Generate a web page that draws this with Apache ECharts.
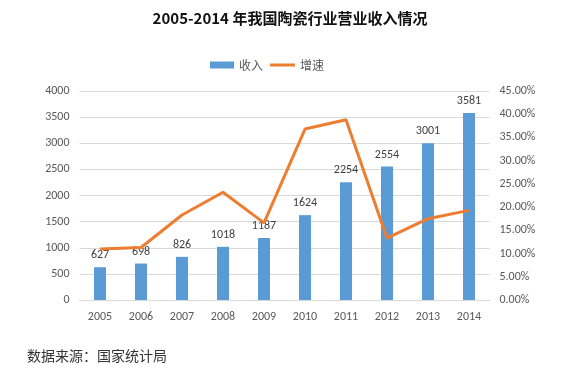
<!DOCTYPE html>
<html><head><meta charset="utf-8">
<script src="https://cdn.jsdelivr.net/npm/echarts@6/dist/echarts.min.js"></script>
<style>html,body{margin:0;padding:0;background:#fff}#c{width:580px;height:371px}</style>
</head><body><div id="c"></div>
<script>
const years = ['2005','2006','2007','2008','2009','2010','2011','2012','2013','2014'];
const revenue = [627, 698, 826, 1018, 1187, 1624, 2254, 2554, 3001, 3581];
const growth = [11.0, 11.3, 18.3, 23.2, 16.6, 36.8, 38.8, 13.3, 17.5, 19.3];
const leftTicks = {min: 0, max: 4000, interval: 500};
const rightTicks = {min: 0, max: 45, interval: 5};

const chart = echarts.init(document.getElementById('c'));
const lblFont = 'Calibri, "Liberation Sans", "Noto Sans CJK SC", sans-serif';
const legText = {fontSize: 12, color: '#595959', fontFamily: '"Noto Sans CJK SC", sans-serif'};
chart.setOption({
  animation: false,
  title: {
    text: '2005-2014 年我国陶瓷行业营业收入情况',
    left: 'center', top: 6,
    textStyle: {fontSize: 15, fontWeight: 'bold', color: '#111', fontFamily: '"Noto Sans CJK SC", sans-serif'}
  },
  legend: [{
    top: 59, left: 210, padding: 0, itemWidth: 24, itemHeight: 7, itemGap: 3,
    textStyle: legText,
    data: [{name: '收入', icon: 'rect'}]
  }, {
    top: 59, left: 270, padding: 0, itemWidth: 25, itemHeight: 3, itemGap: 3,
    textStyle: legText,
    data: [{name: '增速', icon: 'rect'}]
  }],
  grid: {left: 79.5, right: 90.5, top: 91, bottom: 71},
  xAxis: {
    type: 'category', data: years,
    axisLine: {show: true, lineStyle: {color: '#d9d9d9'}},
    axisTick: {show: false},
    axisLabel: {color: '#595959', fontSize: 12, margin: 11, fontFamily: lblFont}
  },
  yAxis: [{
    type: 'value', min: leftTicks.min, max: leftTicks.max, interval: leftTicks.interval,
    axisLine: {show: false}, axisTick: {show: false},
    splitLine: {lineStyle: {color: '#d9d9d9'}},
    axisLabel: {color: '#595959', fontSize: 12, margin: 10, fontFamily: lblFont,
      formatter: v => String(v)}
  }, {
    type: 'value', min: rightTicks.min, max: rightTicks.max, interval: rightTicks.interval,
    axisLine: {show: false}, axisTick: {show: false}, splitLine: {show: false},
    axisLabel: {color: '#595959', fontSize: 12, margin: 10, fontFamily: lblFont,
      formatter: v => v.toFixed(2) + '%'}
  }],
  series: [{
    name: '收入', type: 'bar', data: revenue, barWidth: 12,
    itemStyle: {color: '#5B9BD5'},
    label: {show: true, position: 'top', distance: 6, color: '#404040', fontSize: 12, fontFamily: lblFont}
  }, {
    name: '增速', type: 'line', yAxisIndex: 1, data: growth,
    symbol: 'none', lineStyle: {color: '#ED7D31', width: 3}, itemStyle: {color: '#ED7D31'}
  }],
  graphic: [{
    type: 'text', left: 27, top: 349,
    style: {text: '数据来源：国家统计局', fill: '#333', font: '14px "Noto Sans CJK SC", sans-serif'}
  }]
});
</script></body></html>
